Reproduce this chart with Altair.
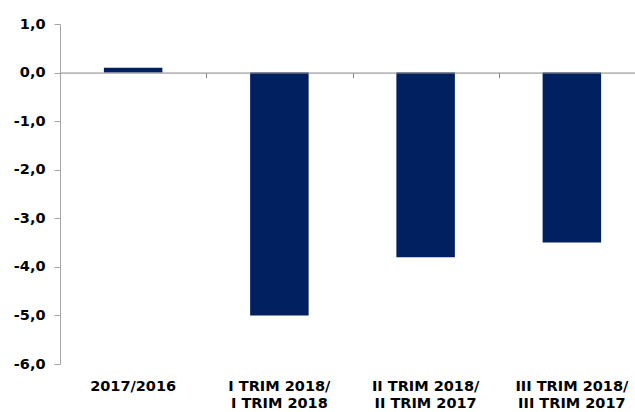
import altair as alt
import pandas as pd

categories = ["2017/2016", "I TRIM 2018/\nI TRIM 2018", "II TRIM 2018/\nII TRIM 2017", "III TRIM 2018/\nIII TRIM 2017"]
values = [0.1, -5.0, -3.8, -3.5]
y_ticks = [-6, -5, -4, -3, -2, -1, 0, 1]

df = pd.DataFrame({"cat": categories, "val": values})

FONT = "DejaVu Sans"
FS = 14.5
xscale = alt.Scale(domain=categories, range=[0, 585], paddingInner=0.6, paddingOuter=0.3)
yscale = alt.Scale(domain=[-6, 1], nice=False, zero=False)

yaxis = alt.Axis(
    values=y_ticks, grid=False, title=None,
    domainColor="#a6a6a6", tickColor="#a6a6a6", tickSize=6,
    labelFont=FONT, labelFontSize=FS, labelFontWeight="bold", labelColor="#000000",
    labelPadding=9,
    labelExpr="(datum.value < 0 ? '-' : '') + replace(format(abs(datum.value), '.1f'), '.', ',')",
)

bars = alt.Chart(df).mark_bar(color="#002060").encode(
    x=alt.X("cat:N", sort=categories, scale=xscale, title=None,
            axis=alt.Axis(orient="bottom", domain=False, ticks=False, labelAngle=0,
                          labelExpr="split(datum.label, '\\n')",
                          labelFont=FONT, labelFontSize=FS, labelFontWeight="bold",
                          labelColor="#000000", labelPadding=15, labelLineHeight=17)),
    y=alt.Y("val:Q", scale=yscale, axis=yaxis),
)

zero_axis = alt.Chart(df).mark_point(opacity=0).encode(
    x=alt.X("cat:N", sort=categories, scale=xscale, title=None,
            axis=alt.Axis(orient="bottom", offset=-291.43, labels=False, domainColor="#868686",
                          tickColor="#868686", tickSize=5, tickBand="center",
                          tickOffset=73.125, zindex=1)),
    y=alt.Y("val:Q", scale=yscale, axis=yaxis),
)

chart = alt.layer(bars, zero_axis).resolve_axis(x="independent").properties(
    width=574, height=340,
    padding={"left": 60, "top": 24, "right": 1, "bottom": 48},
    autosize="none", background="white",
).configure_view(stroke=None)

chart.save("out.html", embed_options={"renderer": "svg", "actions": False})
